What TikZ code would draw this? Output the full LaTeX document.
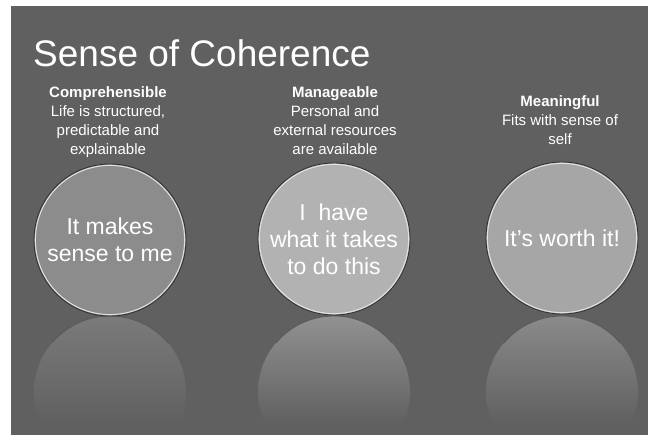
\documentclass[tikz,border=0pt]{standalone}
\usepackage{fontspec}
\setmainfont{Liberation Sans}
\definecolor{bg}{RGB}{96,96,96}
\definecolor{cA}{RGB}{140,140,140}
\definecolor{cB}{RGB}{178,178,178}
\definecolor{cC}{RGB}{166,166,166}
\definecolor{rim}{RGB}{225,225,225}
\tikzset{
  bubble/.style={circle, minimum size=152pt, inner sep=0pt, draw=black!80, line width=0.9pt,
    text=white, align=center, font=\fontsize{23}{27}\selectfont},
  hdr/.style={text=white, align=center, inner sep=0pt, font=\fontsize{15}{19}\selectfont},
  rimline/.style={draw=rim, line width=1pt},
  reflarc/.style={draw=black!65, line width=0.8pt}
}
\begin{document}
\begin{tikzpicture}[x=1pt,y=1pt]
\useasboundingbox (0,0) rectangle (648,439);
\fill[white] (0,0) rectangle (648,439);
\fill[bg] (11,4) rectangle (648,433);
% reflections
\foreach \cx/\col in {110/cA,334/cB,562/cC}{
  \begin{scope}
    \clip (11,4) rectangle (648,123);
    \clip (\cx,47) circle (76);
    \shade[top color=\col!60!bg, bottom color=bg] (\cx-80,123) rectangle (\cx+80,15);
  \end{scope}
  \draw[reflarc] (\cx,47) ++(40:76) arc (40:140:76);
}
% title
\node[anchor=base west, inner sep=0pt, text=white, font=\fontsize{37}{40}\selectfont] (title) at (33,372) {Sense of Coherence};
% headers
\node[hdr, anchor=north] (comp) at (108,353) {\textbf{Comprehensible}\\Life is structured,\\predictable and\\explainable};
\node[hdr, anchor=north] (man) at (335,353) {\textbf{Manageable}\\Personal and\\external resources\\are available};
\node[hdr, anchor=north] (mean) at (560,344) {\textbf{Meaningful}\\Fits with sense of\\self};
% circles
\node[bubble, fill=cA] (b1) at (110,199) {It makes\\sense to me};
\node[bubble, fill=cB] (b2) at (334,200) {I\ \ have\\what it takes\\to do this};
\node[bubble, fill=cC] (b3) at (562,201) {It's worth it!};
\foreach \n in {b1,b2,b3}{ \draw[rimline] (\n.center) circle (74.6); }
\end{tikzpicture}
\end{document}
